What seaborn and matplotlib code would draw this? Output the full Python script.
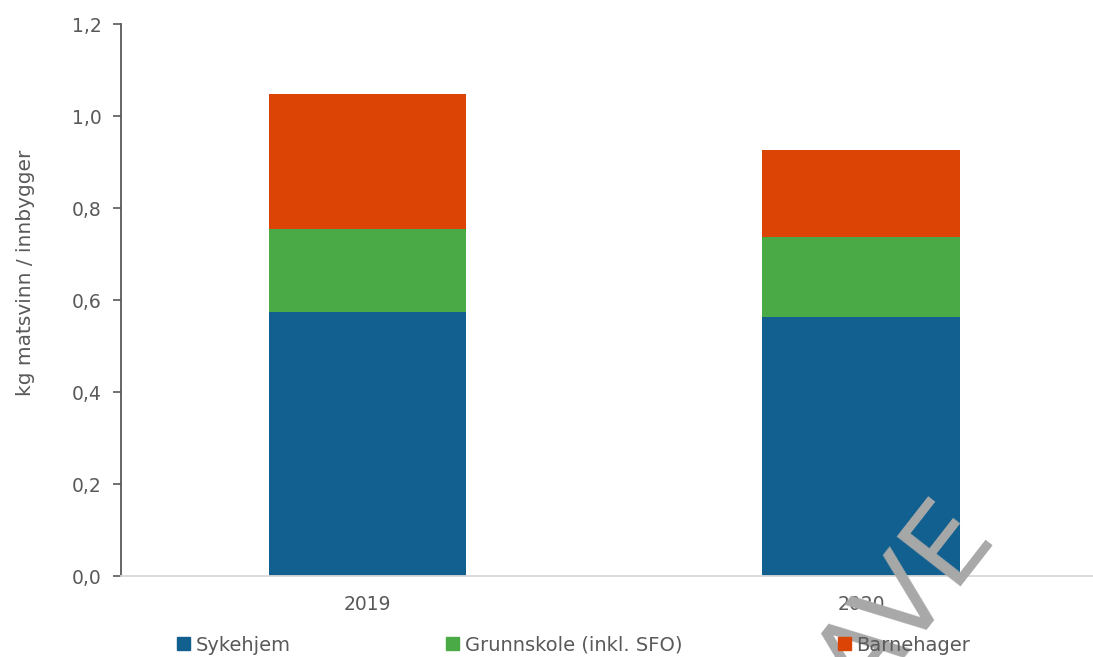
import matplotlib
matplotlib.use("Agg")
import matplotlib.pyplot as plt
import matplotlib.patches as mpatches
import numpy as np
import pandas as pd
import seaborn as sns

sns.set_theme(style="white")
plt.rcParams['font.family'] = ['DejaVu Sans']

years = ["2019", "2020"]
sykehjem = [0.575, 0.562]
grunnskole = [0.180, 0.176]
barnehager = [0.293, 0.188]

series = ["Sykehjem", "Grunnskole (inkl. SFO)", "Barnehager"]
colors = ["#11608f", "#4aaa45", "#dc4405"]
grey = "#595959"

df = pd.DataFrame({"year": years, "Sykehjem": sykehjem,
                   "Grunnskole (inkl. SFO)": grunnskole, "Barnehager": barnehager})
# cumulative tops for stacking, drawn from the top down
df["top_grunn"] = df["Sykehjem"] + df["Grunnskole (inkl. SFO)"]
df["top_barn"] = df["top_grunn"] + df["Barnehager"]

fig = plt.figure(figsize=(10.93, 6.57), dpi=100)
ax = fig.add_axes([121 / 1093, 1 - 576 / 657, 1 - 121 / 1093, (576 - 24) / 657])

for col, c in zip(["top_barn", "top_grunn", "Sykehjem"], colors[::-1]):
    sns.barplot(x="year", y=col, data=df, color=c, width=0.4, ax=ax,
                saturation=1, linewidth=0)

ax.set_xlim(-0.5, 1.47)
ax.set_ylim(0, 1.2)
ax.set_yticks(np.arange(0, 1.21, 0.2))
ax.set_yticklabels([f"{v:.1f}".replace(".", ",") for v in np.arange(0, 1.21, 0.2)])
ax.tick_params(axis="y", left=True, length=6, width=1.2, color=grey, labelsize=13.5,
               labelcolor=grey, pad=8)
ax.tick_params(axis="x", bottom=False, labelsize=13.5, labelcolor=grey, pad=8)
ax.set_xlabel("")
ax.set_ylabel("kg matsvinn / innbygger", fontsize=14.5, color=grey)
ax.yaxis.set_label_coords(-0.088, 0.55)

sns.despine(ax=ax, top=True, right=True)
ax.spines["left"].set_color(grey)
ax.spines["left"].set_linewidth(1.3)
ax.spines["bottom"].set_color("#d9d9d9")
ax.spines["bottom"].set_linewidth(1.3)

handles = [mpatches.Patch(color=c, label=s) for s, c in zip(series, colors)]
fig.legend(handles=handles, loc="center", bbox_to_anchor=(0.525, 0.018), ncol=3,
           frameon=False, fontsize=14, labelcolor=grey, handlelength=0.65,
           handleheight=0.65, handletextpad=0.3, columnspacing=8.0)

# watermark
fig.text(0.83, 0.08, "AVE", rotation=52, fontsize=80, color="#a8a8a8",
         ha="center", va="center")

fig.savefig("out.png", dpi=100)
